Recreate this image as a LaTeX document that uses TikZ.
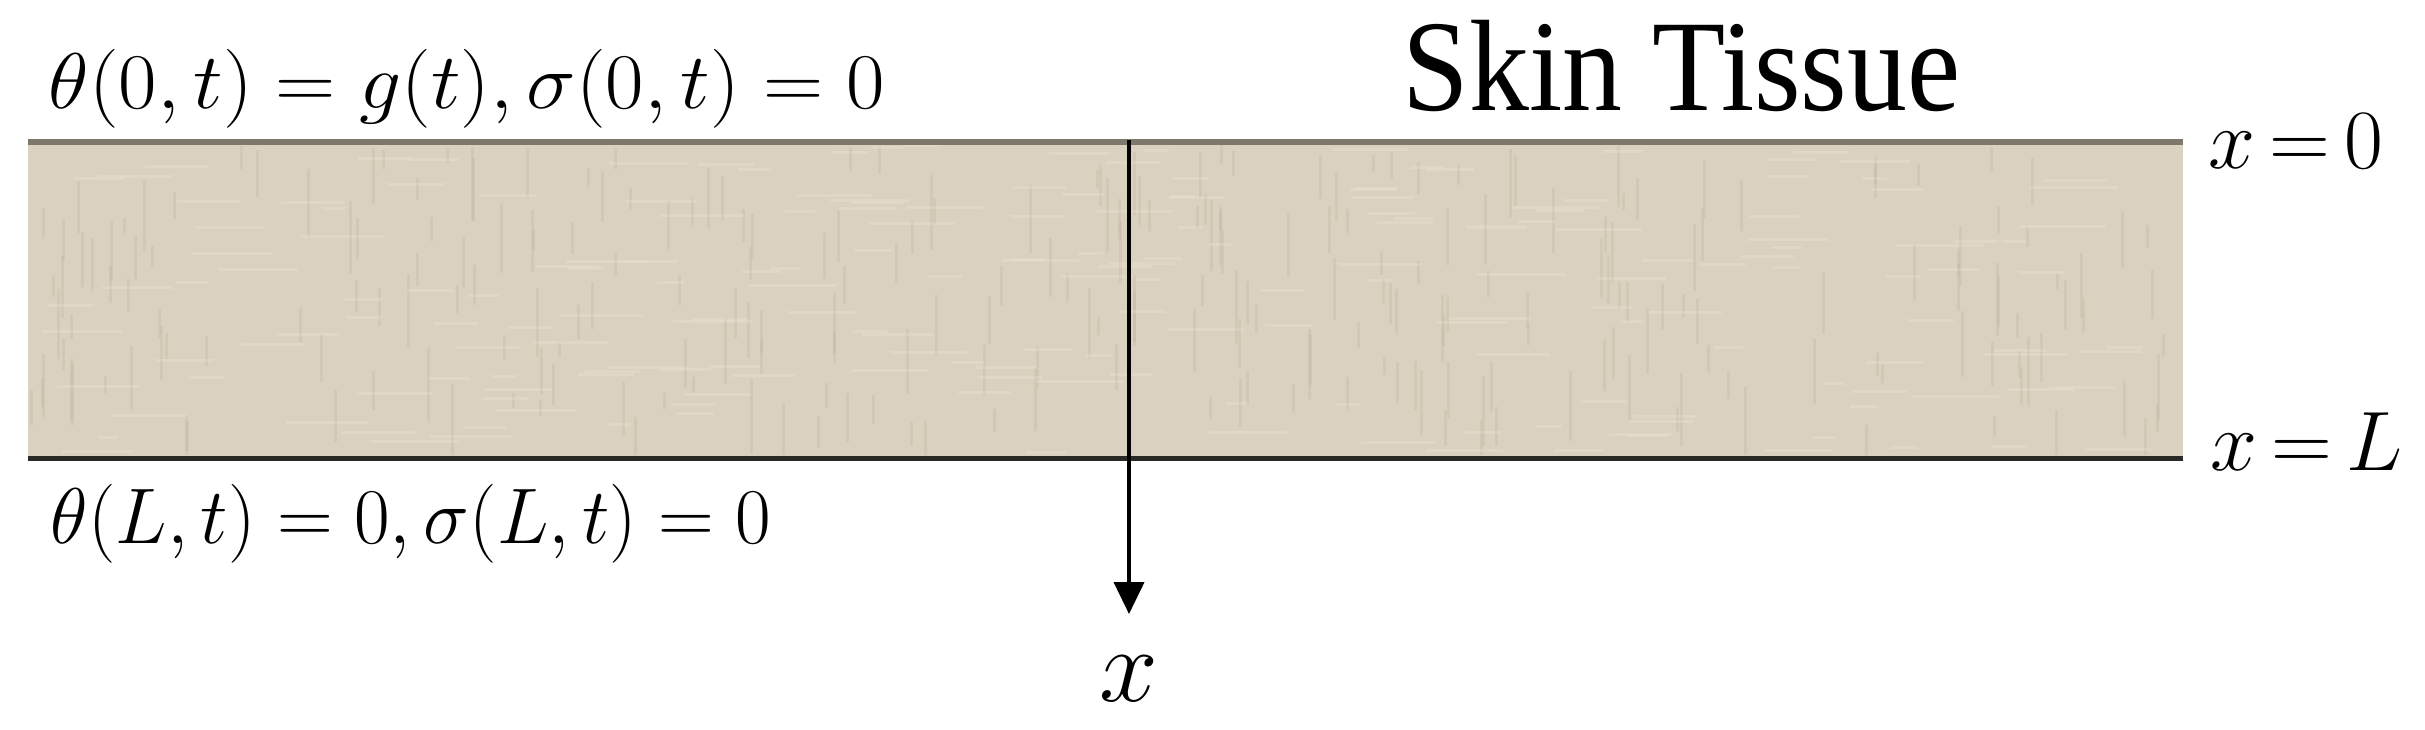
\RequirePackage{fix-cm}
\documentclass[tikz,border=0pt]{standalone}
\usepackage{fontspec}
\usetikzlibrary{arrows.meta}
\newfontfamily\skinfont{Liberation Serif}
\definecolor{skinfill}{HTML}{DAD2C0}
\definecolor{texdark}{HTML}{BDB39F}
\definecolor{texlight}{HTML}{EDE6D6}
\definecolor{topedge}{HTML}{7E786C}
\definecolor{botedge}{HTML}{2A2926}
\tikzset{
  eqlabel/.style={inner sep=0pt, font=\fontsize{22}{26}\selectfont},
  sidelabel/.style={inner sep=0pt, anchor=west, font=\fontsize{24}{28}\selectfont},
  axisarrow/.style={line width=0.04cm, -{Triangle[width=0.3cm,length=0.32cm]}},
  streak/.style={line width=0.03cm, opacity=0.3}
}
\begin{document}
\begin{tikzpicture}[x=0.01cm,y=-0.01cm]
\useasboundingbox (0,0) rectangle (2425,729);
% tissue band
\fill[skinfill] (28,142) rectangle (2183,458);
\pgfmathsetseed{11}
\foreach \i in {1,...,260}{
  \pgfmathsetmacro\xa{30+rnd*2150}
  \pgfmathsetmacro\ya{145+rnd*280}
  \pgfmathsetmacro\ln{15+rnd*60}
  \pgfmathsetmacro\yb{min(\ya+\ln,455)}
  \draw[streak, texdark] (\xa,\ya) -- (\xa,\yb);
}
\foreach \i in {1,...,200}{
  \pgfmathsetmacro\xa{30+rnd*2080}
  \pgfmathsetmacro\ya{145+rnd*308}
  \pgfmathsetmacro\ln{20+rnd*70}
  \pgfmathsetmacro\xb{min(\xa+\ln,2180)}
  \draw[streak, texlight] (\xa,\ya) -- (\xb,\ya);
}
\coordinate (tl) at (28,142);
\coordinate (tr) at (2183,142);
\coordinate (bl) at (28,458);
\coordinate (br) at (2183,458);
\draw[topedge, line width=0.065cm] (tl) -- (tr);
\draw[botedge, line width=0.05cm] (bl) -- (br);
% labels
\node[eqlabel, anchor=west] (topeq) at (48,89) {\scalebox{1.08}[1.02]{$\theta(0,t)=g(t),\sigma(0,t)=0$}};
\node[eqlabel, anchor=west] (boteq) at (50,524) {\scalebox{1.0}[1.02]{$\theta(L,t)=0,\sigma(L,t)=0$}};
\node[inner sep=0pt, anchor=base west] (skin) at (1402,110) {\skinfont\fontsize{37}{40}\selectfont\scalebox{0.92}[1]{Skin Tissue}};
\node[sidelabel] (x0) at (2208,141) {$x\mskip3mu{=}\mskip3mu0$};
\node[sidelabel] (xL) at (2210,442) {$x\mskip3mu{=}\mskip3mu L$};
\node[inner sep=0pt, font=\fontsize{30}{34}\selectfont] (xlab) at (1129,679) {$x$};
% axis
\coordinate (axtop) at (1129,140);
\coordinate (axtip) at (1129,614);
\draw[axisarrow] (axtop) -- (axtip);
\end{tikzpicture}
\end{document}
